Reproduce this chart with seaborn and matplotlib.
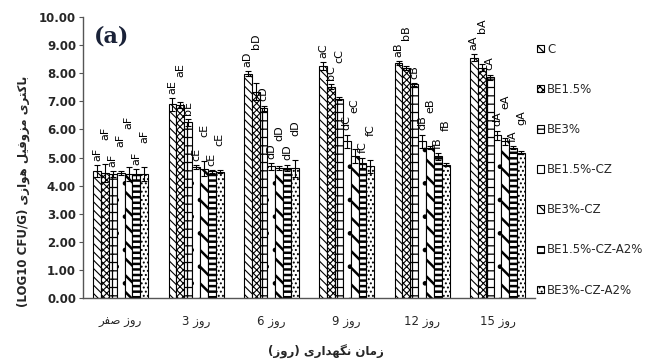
import re
import pandas as pd
import matplotlib
matplotlib.use('Agg')
import matplotlib.pyplot as plt
import seaborn as sns
from matplotlib.patches import Patch

# ---- data ----
days = ['روز صفر', 'روز 3', 'روز 6', 'روز 9', 'روز 12', 'روز 15']
treatments = ['C', 'BE1.5%', 'BE3%', 'BE1.5%-CZ', 'BE3%-CZ', 'BE1.5%-CZ-A2%', 'BE3%-CZ-A2%']

c_vals = [4.52, 6.89, 7.99, 8.26, 8.36, 8.56]
be15_vals = [4.45, 6.86, 7.35, 7.52, 8.18, 8.20]
be3_vals = [4.42, 6.26, 6.76, 7.10, 7.60, 7.85]
be15cz_vals = [4.45, 4.66, 4.69, 5.58, 5.58, 5.79]
be3cz_vals = [4.40, 4.60, 4.63, 5.05, 5.35, 5.58]
be15cza2_vals = [4.40, 4.51, 4.63, 4.81, 5.05, 5.35]
be3cza2_vals = [4.42, 4.50, 4.62, 4.69, 4.75, 5.17]

c_err = [0.20, 0.22, 0.10, 0.13, 0.07, 0.12]
be15_err = [0.32, 0.10, 0.30, 0.08, 0.08, 0.12]
be3_err = [0.10, 0.12, 0.09, 0.05, 0.06, 0.10]
be15cz_err = [0.08, 0.06, 0.12, 0.24, 0.24, 0.17]
be3cz_err = [0.25, 0.27, 0.08, 0.24, 0.05, 0.12]
be15cza2_err = [0.20, 0.05, 0.12, 0.19, 0.12, 0.05]
be3cza2_err = [0.25, 0.05, 0.30, 0.24, 0.05, 0.06]

c_let = ['aF', 'aE', 'aD', 'aC', 'aB', 'aA']
be15_let = ['aF', 'aE', 'bD', 'bC', 'bB', 'bA']
be3_let = ['aF', 'bE', 'cD', 'cC', 'cB', 'cA']
be15cz_let = ['aF', 'cE', 'dD', 'dC', 'dB', 'dA']
be3cz_let = ['aF', 'cE', 'dD', 'eC', 'eB', 'eA']
be15cza2_let = ['aF', 'cE', 'dD', 'fC', 'fB', 'fA']
be3cza2_let = ['aF', 'cE', 'dD', 'fC', 'fB', 'gA']

x_title = 'زمان نگهداری (روز)'
y_title = 'باکتری مزوفیل هوازی (LOG10 CFU/G)'

vals = [c_vals, be15_vals, be3_vals, be15cz_vals, be3cz_vals, be15cza2_vals, be3cza2_vals]
errs = [c_err, be15_err, be3_err, be15cz_err, be3cz_err, be15cza2_err, be3cza2_err]
lets = [c_let, be15_let, be3_let, be15cz_let, be3cz_let, be15cza2_let, be3cza2_let]
hatches = ['\\\\\\\\', 'xxxxx', '++', '.', '\\\\', '---', '....']
hatch_lw = [0.8, 0.8, 0.9, 0.9, 1.8, 1.8, 0.9]

# ---- minimal persian shaping + rtl ordering (matplotlib does neither) ----
FORMS = {
    '\u0627': ('\uFE8D', '\uFE8E', None, None),
    '\u0628': ('\uFE8F', '\uFE90', '\uFE91', '\uFE92'),
    '\u062A': ('\uFE95', '\uFE96', '\uFE97', '\uFE98'),
    '\u062F': ('\uFEA9', '\uFEAA', None, None),
    '\u0631': ('\uFEAD', '\uFEAE', None, None),
    '\u0632': ('\uFEAF', '\uFEB0', None, None),
    '\u0635': ('\uFEB9', '\uFEBA', '\uFEBB', '\uFEBC'),
    '\u0641': ('\uFED1', '\uFED2', '\uFED3', '\uFED4'),
    '\u0643': ('\uFED9', '\uFEDA', '\uFEDB', '\uFEDC'),
    '\u0644': ('\uFEDD', '\uFEDE', '\uFEDF', '\uFEE0'),
    '\u0645': ('\uFEE1', '\uFEE2', '\uFEE3', '\uFEE4'),
    '\u0646': ('\uFEE5', '\uFEE6', '\uFEE7', '\uFEE8'),
    '\u0647': ('\uFEE9', '\uFEEA', '\uFEEB', '\uFEEC'),
    '\u0648': ('\uFEED', '\uFEEE', None, None),
    '\u064A': ('\uFEF1', '\uFEF2', '\uFEF3', '\uFEF4'),
    '\u06A9': ('\uFB8E', '\uFB8F', '\uFB90', '\uFB91'),
    '\u06AF': ('\uFB92', '\uFB93', '\uFB94', '\uFB95'),
    '\u06CC': ('\uFBFC', '\uFBFD', '\uFBFE', '\uFBFF'),
}


def shape(word):
    out = []
    for i, ch in enumerate(word):
        forms = FORMS.get(ch)
        if forms is None:
            out.append(ch)
            continue
        prev = word[i - 1] if i > 0 else ''
        nxt = word[i + 1] if i + 1 < len(word) else ''
        jp = prev in FORMS and FORMS[prev][2] is not None
        jn = nxt in FORMS and forms[2] is not None
        if jp and jn:
            out.append(forms[3])
        elif jp:
            out.append(forms[1])
        elif jn:
            out.append(forms[2])
        else:
            out.append(forms[0])
    return ''.join(out)


def rtl(text):
    tokens = re.findall(r'[\u0600-\u06FF]+|[A-Za-z0-9][A-Za-z0-9/ .%-]*[A-Za-z0-9]|[A-Za-z0-9]|.', text)
    mirror = {'(': ')', ')': '('}
    vis = []
    for t in reversed(tokens):
        if re.match(r'[\u0600-\u06FF]', t):
            vis.append(shape(t)[::-1])
        else:
            vis.append(mirror.get(t, t))
    return ''.join(vis)


# ---- long table for seaborn ----
rows = []
for tr, v in zip(treatments, vals):
    for d, y in zip(days, v):
        rows.append({'day': d, 'treatment': tr, 'value': y})
df = pd.DataFrame(rows)

sns.set_theme(style='white')
plt.rcParams['font.family'] = ['DejaVu Sans']
plt.rcParams['hatch.linewidth'] = 0.9

fig = plt.figure(figsize=(6.51, 3.63), dpi=100)
ax = fig.add_axes([0.1275, 0.179, 0.822 - 0.1275, 0.953 - 0.179])

sns.barplot(data=df, x='day', y='value', hue='treatment', order=days, hue_order=treatments,
            palette=['white'] * 7, edgecolor='black', linewidth=0.8, errorbar=None,
            width=0.73, legend=False, ax=ax)

bar_groups = list(ax.containers)
for k, cont in enumerate(bar_groups):
    for j, bar in enumerate(cont):
        bar.set_hatch(hatches[k])
        if hasattr(bar, 'set_hatch_linewidth'):
            bar.set_hatch_linewidth(hatch_lw[k])
        xc = bar.get_x() + bar.get_width() / 2
        ax.errorbar(xc, bar.get_height(), yerr=errs[k][j], color='black', lw=0.8,
                    capsize=2.5, capthick=0.8, zorder=5)

# letters above error bars, staggered when neighbours sit at about the same height
span = 0.62
for j in range(len(days)):
    prev_y0, prev_y, prev_up = None, None, False
    for k, cont in enumerate(bar_groups):
        bar = cont[j]
        xc = bar.get_x() + bar.get_width() / 2
        y0 = bar.get_height() + errs[k][j] + 0.15
        y, up = y0, False
        if prev_y is not None and abs(y0 - prev_y) < span:
            if not prev_up:
                up = True
                y = max(y0 + 0.7, prev_y + span)
            elif y0 > prev_y - span:
                y = prev_y + span
        ax.text(xc, y, lets[k][j], rotation=90, ha='center', va='bottom',
                fontsize=8, color='black')
        prev_y0, prev_y, prev_up = y0, y, up

ax.set_xlim(-0.5, len(days) - 0.5)
ax.set_ylim(0, 10)
ax.set_yticks(range(0, 11))
ax.set_yticklabels([f'{t:.2f}' for t in range(0, 11)], fontsize=8.5, fontweight='bold')
ax.set_xticks(range(len(days)))
ax.set_xticklabels([rtl(d) for d in days], fontsize=8.5)
ax.set_xlabel('')
ax.set_ylabel('')
ax.tick_params(axis='y', length=3, width=0.8, color='#555555', pad=2, left=True)
ax.tick_params(axis='x', length=0, pad=12)
for s in ['top', 'right']:
    ax.spines[s].set_visible(False)
for s in ['left', 'bottom']:
    ax.spines[s].set_color('#555555')
    ax.spines[s].set_linewidth(1.0)

fig.text(0.5, 1 - 352 / 363, rtl(x_title), ha='center', va='center', fontsize=8.5, fontweight='bold')
fig.text(23 / 651, 1 - 191 / 363, rtl(y_title), rotation=90, ha='center', va='center',
         fontsize=8.5, fontweight='bold')
ax.text(0.025, 0.93, '(a)', transform=ax.transAxes, fontsize=16, fontweight='bold',
        family='DejaVu Serif', color='#1a2238', ha='left', va='center')

handles = [Patch(facecolor='white', edgecolor='black', hatch=h, linewidth=0.8) for h in hatches]
fig.legend(handles, treatments, loc='upper left', bbox_to_anchor=(532 / 651, 1 - 38 / 363),
           frameon=False, fontsize=8.5, handlelength=0.6, handleheight=0.6,
           handletextpad=0.3, labelspacing=2.3, borderaxespad=0)

fig.savefig('out.png', dpi=100)
